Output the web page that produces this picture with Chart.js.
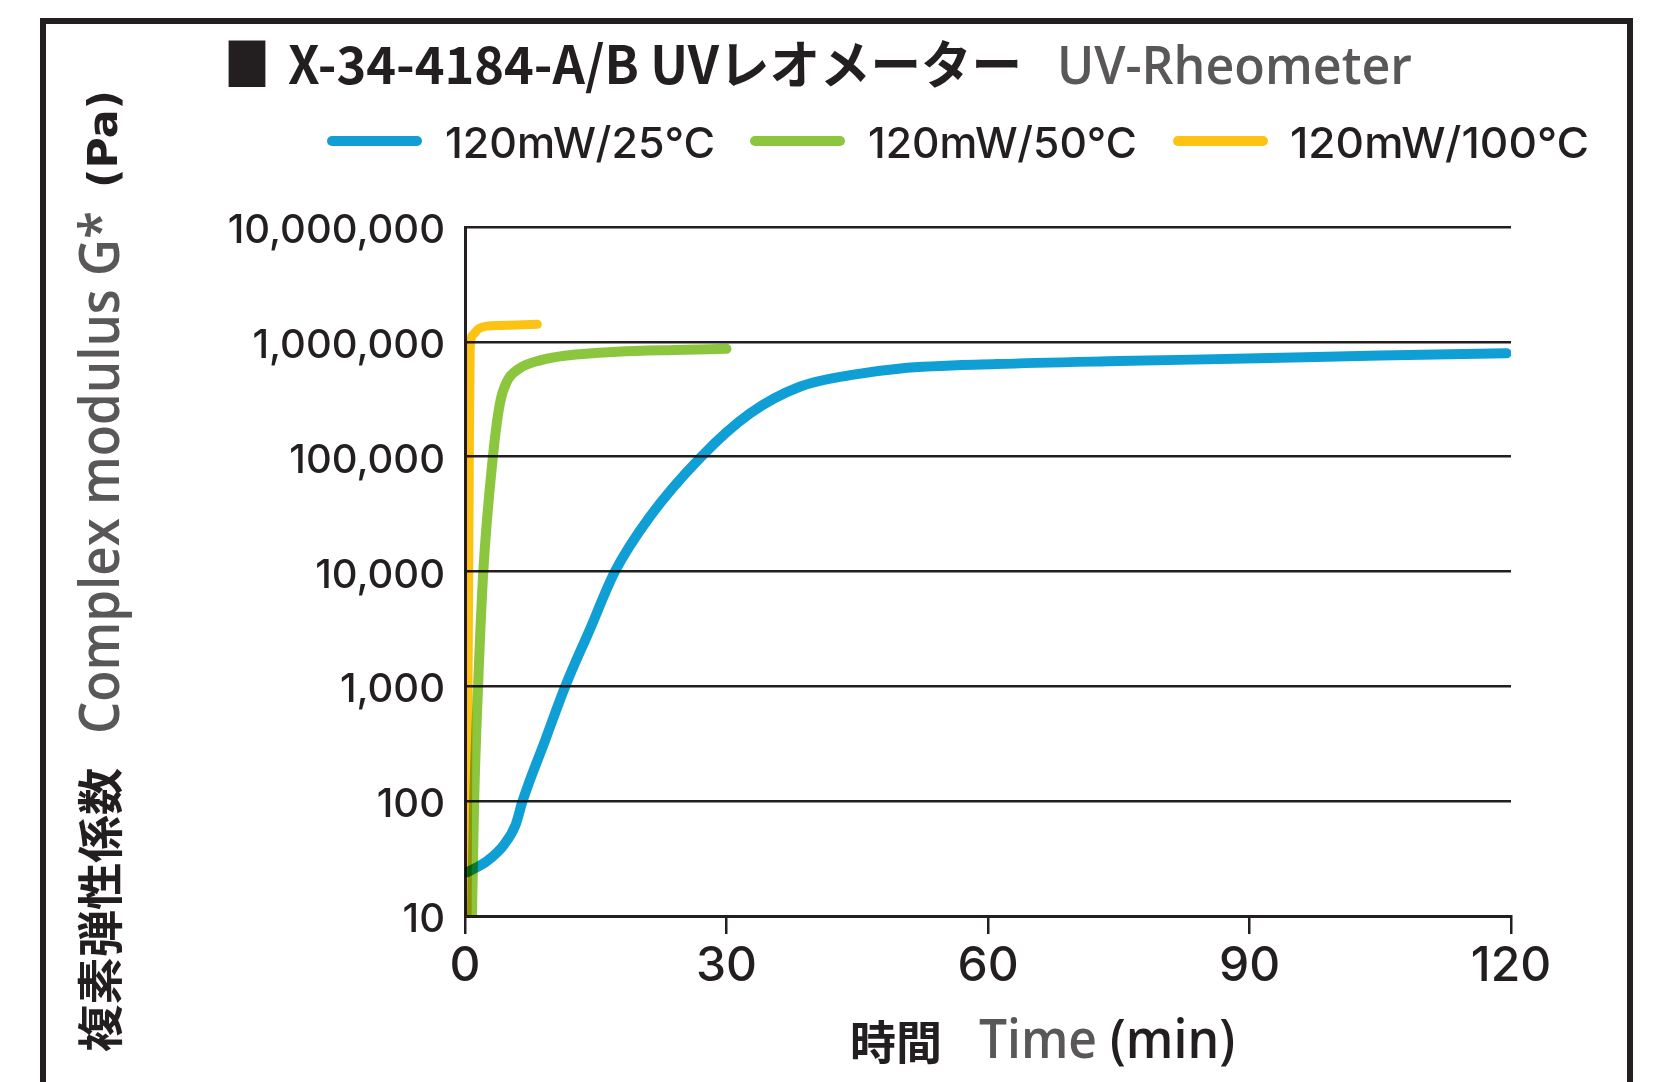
<!DOCTYPE html>
<html>
<head>
<meta charset="utf-8">
<title>X-34-4184-A/B UV-Rheometer</title>
<script src="https://cdn.jsdelivr.net/npm/chart.js@4.4.1/dist/chart.umd.min.js"></script>
<style>
  html, body { margin: 0; padding: 0; background: #fff; overflow: hidden; }
  #chart { display: block; }
</style>
</head>
<body>
<canvas id="chart" width="1655" height="1082"></canvas>
<script>
// values (time in min, G* in Pa)
const seriesLabels = ['120mW/25℃', '120mW/50℃', '120mW/100℃'];
const seriesColors = ['#109fd4', '#8cc63f', '#fdc312'];

const time25 = [0.2, 2.5, 4.5, 5.8, 6.6, 9.2, 11.5, 14.3, 17.2, 21.2, 27.1, 32.7, 38.4, 44.2, 50, 61, 75, 91, 105, 119.5];
const g25 = [24, 30, 42, 62, 100, 340, 1000, 3100, 10000, 30000, 100000, 238000, 406000, 513000, 587000, 640000, 680000, 718000, 760000, 795000];

const time50 = [0.8, 1.05, 1.5, 2.1, 3.2, 4.0, 4.8, 6.3, 8.6, 11.7, 17.5, 24, 30];
const g50 = [10, 100, 1000, 10000, 100000, 290000, 450000, 590000, 690000, 760000, 820000, 850000, 870000];

const time100 = [0.25, 0.35, 0.5, 0.6, 0.9, 1.5, 2.5, 4, 6, 8.3];
const g100 = [10, 1000, 100000, 900000, 1150000, 1290000, 1370000, 1390000, 1400000, 1420000];

const xTicks = [0, 30, 60, 90, 120];
const xTickLabels = ['0', '30', '60', '90', '120'];
const yTicks = [10, 100, 1000, 10000, 100000, 1000000, 10000000];
const yTickLabels = ['10', '100', '1,000', '10,000', '100,000', '1,000,000', '10,000,000'];

const INK = '#231f20';
const GREY = '#595757';
const NUM_FONT = 'Inter, "DejaVu Sans", sans-serif';

function toPoints(xs, ys) {
  return xs.map((x, i) => ({ x: x, y: ys[i] }));
}

// draw text squeezed/stretched to a given width
function fitText(ctx, text, x, y, width, font, color) {
  ctx.save();
  ctx.font = font;
  const w = ctx.measureText(text).width;
  ctx.translate(x, y);
  ctx.scale(width / w, 1);
  ctx.fillStyle = color;
  ctx.textAlign = 'left';
  ctx.textBaseline = 'alphabetic';
  ctx.fillText(text, 0, 0);
  ctx.restore();
}

// frame, title, legend and axis titles
const decorations = {
  id: 'decorations',
  beforeDraw(chart) {
    const ctx = chart.ctx;
    ctx.save();
    ctx.fillStyle = '#fff';
    ctx.fillRect(0, 0, chart.width, chart.height);
    ctx.strokeStyle = INK;
    ctx.lineWidth = 6;
    ctx.beginPath();
    ctx.moveTo(43, 1100);
    ctx.lineTo(43, 21);
    ctx.lineTo(1630, 21);
    ctx.lineTo(1630, 1100);
    ctx.stroke();
    ctx.restore();
  },
  afterDraw(chart) {
    const ctx = chart.ctx;
    const jp = 'bold 52px "Noto Sans CJK JP", sans-serif';

    // title
    fitText(ctx, '■', 224, 86, 46, 'bold 58px "Noto Sans CJK JP", sans-serif', INK);
    fitText(ctx, 'X-34-4184-A/B UVレオメーター', 288, 84, 734, jp, INK);
    fitText(ctx, 'UV-Rheometer', 1057, 84, 355, '600 53px "Open Sans", sans-serif', GREY);

    // legend
    const swatchX = [332, 755, 1178];
    const textX = [445, 868, 1290];
    const textW = [270, 269, 299];
    seriesLabels.forEach((label, i) => {
      ctx.save();
      ctx.strokeStyle = seriesColors[i];
      ctx.lineWidth = 10;
      ctx.lineCap = 'round';
      ctx.beginPath();
      ctx.moveTo(swatchX[i], 141);
      ctx.lineTo(swatchX[i] + 85, 141);
      ctx.stroke();
      ctx.restore();
      fitText(ctx, label, textX[i], 158, textW[i], '500 43px ' + NUM_FONT, INK);
    });

    // x axis title
    fitText(ctx, '時間', 850, 1059, 92, 'bold 46px "Noto Sans CJK JP", sans-serif', INK);
    fitText(ctx, 'Time', 979, 1058, 118, '600 54px "Open Sans", sans-serif', GREY);
    fitText(ctx, '(min)', 1110, 1058, 125, '600 54px "Open Sans", sans-serif', INK);

    // y axis title, reading bottom to top
    ctx.save();
    ctx.rotate(-Math.PI / 2);
    fitText(ctx, '複素弾性係数', -1052, 117, 284, 'bold 46px "Noto Sans CJK JP", sans-serif', INK);
    fitText(ctx, 'Complex modulus G*', -734, 119, 523, '600 56px "Open Sans", sans-serif', GREY);
    fitText(ctx, '(Pa)', -188, 117, 98, 'bold 40px "DejaVu Sans", sans-serif', INK);
    ctx.restore();
  }
};

// lines darken where they cross, like overprinted ink
const overprint = {
  id: 'overprint',
  beforeDatasetsDraw(chart) {
    chart.ctx.save();
    chart.ctx.globalCompositeOperation = 'multiply';
  },
  afterDatasetsDraw(chart) {
    chart.ctx.restore();
  }
};

function initChart() {
  const ctx = document.getElementById('chart').getContext('2d');
  const lineStyle = {
    pointRadius: 0,
    pointHoverRadius: 0,
    borderWidth: 10,
    borderCapStyle: 'round',
    borderJoinStyle: 'round',
    cubicInterpolationMode: 'monotone',
    fill: false
  };

  new Chart(ctx, {
    type: 'line',
    data: {
      datasets: [
        Object.assign({ label: seriesLabels[0], data: toPoints(time25, g25), borderColor: seriesColors[0] }, lineStyle),
        Object.assign({ label: seriesLabels[1], data: toPoints(time50, g50), borderColor: seriesColors[1] }, lineStyle),
        Object.assign({ label: seriesLabels[2], data: toPoints(time100, g100), borderColor: seriesColors[2] }, lineStyle, { borderWidth: 9 })
      ]
    },
    options: {
      responsive: false,
      devicePixelRatio: 1,
      animation: false,
      events: [],
      layout: {
        padding: { top: 227, right: 144, bottom: 66, left: 0 }
      },
      plugins: {
        legend: { display: false },
        title: { display: false },
        tooltip: { enabled: false }
      },
      scales: {
        x: {
          type: 'linear',
          min: 0,
          max: 120,
          afterBuildTicks: scale => { scale.ticks = xTicks.map(v => ({ value: v })); },
          afterFit: scale => { scale.height = 100; },
          grid: {
            drawOnChartArea: false,
            drawTicks: true,
            tickLength: 18,
            color: INK,
            lineWidth: 2.5
          },
          border: { display: true, color: INK, width: 3 },
          ticks: {
            color: INK,
            font: { family: NUM_FONT, size: 48, weight: 500 },
            padding: 4,
            maxRotation: 0,
            autoSkip: false,
            callback: (value, i) => xTickLabels[i]
          }
        },
        y: {
          type: 'logarithmic',
          min: 10,
          max: 10000000,
          afterBuildTicks: scale => { scale.ticks = yTicks.map(v => ({ value: v })); },
          afterFit: scale => { scale.width = 465; },
          grid: {
            drawTicks: false,
            color: INK,
            lineWidth: 2.5
          },
          border: { display: true, color: INK, width: 3 },
          ticks: {
            color: INK,
            font: { family: NUM_FONT, size: 40, weight: 500 },
            padding: 20,
            labelOffset: 4,
            autoSkip: false,
            callback: (value, i) => yTickLabels[i]
          }
        }
      }
    },
    plugins: [decorations, overprint]
  });
}

if (document.fonts && document.fonts.load) {
  Promise.all([
    document.fonts.load('bold 52px "Noto Sans CJK JP"', '複素弾性係数時間レオメーター■'),
    document.fonts.load('600 54px "Open Sans"'),
    document.fonts.load('500 40px Inter'),
    document.fonts.load('bold 40px "DejaVu Sans"')
  ]).then(initChart, initChart);
} else {
  initChart();
}
</script>
</body>
</html>
